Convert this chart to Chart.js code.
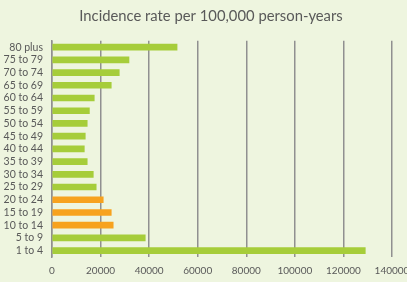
<!DOCTYPE html>
<html>
<head>
<meta charset="utf-8">
<script src="https://cdn.jsdelivr.net/npm/chart.js@4"></script>
<style>
  html, body { margin:0; padding:0; background:#eef5df; }
  #wrap { width:407px; height:282px; }
</style>
</head>
<body>
<div id="wrap"><canvas id="chart" width="407" height="282"></canvas></div>
<script>
const ageGroups = ['80 plus','75 to 79','70 to 74','65 to 69','60 to 64','55 to 59','50 to 54',
  '45 to 49','40 to 44','35 to 39','30 to 34','25 to 29','20 to 24','15 to 19','10 to 14','5 to 9','1 to 4'];
const incidence = [51500,31700,27700,24400,17400,15400,14500,13700,13300,14500,17000,18200,21100,24400,25200,38400,129000];
const highlighted = ['20 to 24','15 to 19','10 to 14'];
const xTicks = [0,20000,40000,60000,80000,100000,120000,140000];

const GREEN = '#a6cd3a', ORANGE = '#f7a21e', GREY = '#595959';

// title sits a little right of the canvas centre in the original
const shiftTitle = {
  id: 'shiftTitle',
  afterLayout(chart){ if(chart.titleBlock) chart.titleBlock.left += 15; }
};

new Chart(document.getElementById('chart'), {
  type: 'bar',
  data: {
    labels: ageGroups,
    datasets: [{
      data: incidence,
      backgroundColor: ageGroups.map(a => highlighted.includes(a) ? ORANGE : GREEN),
      barThickness: 6
    }]
  },
  plugins: [shiftTitle],
  options: {
    indexAxis: 'y',
    responsive: false,
    animation: false,
    layout: { padding: 0 },
    plugins: {
      legend: { display: false },
      tooltip: { enabled: false },
      title: {
        display: true,
        text: 'Incidence rate per 100,000 person-years',
        color: GREY,
        font: { family: 'Lato', size: 14.8, weight: 'normal' },
        padding: { top: 7, bottom: 16 }
      }
    },
    scales: {
      x: {
        min: 0, max: 140000,
        afterBuildTicks: s => { s.ticks = xTicks.map(v => ({ value: v })); },
        afterFit: s => { s.height = 25; s.paddingRight = 15; s.paddingLeft = 0; },
        grid: { color: '#909090', lineWidth: 1.5, drawTicks: false },
        border: { display: false },
        ticks: { color: GREY, padding: 8, maxRotation: 0, autoSkip: false,
          font: { family: 'Lato', size: 10 }, callback: v => String(v) }
      },
      y: {
        afterFit: s => { s.width = 52; },
        grid: { display: false, drawTicks: false },
        border: { display: true, color: '#909090', width: 1.5 },
        ticks: { color: GREY, padding: 9, autoSkip: false, font: { family: 'Lato', size: 10.5 } }
      }
    }
  }
});
</script>
</body>
</html>
